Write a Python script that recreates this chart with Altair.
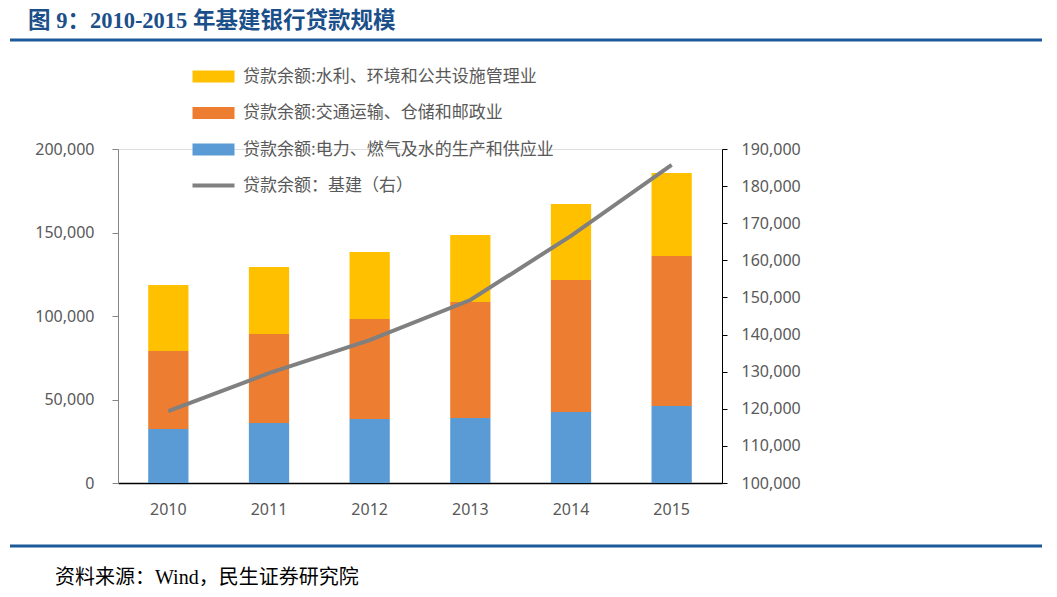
import altair as alt
import pandas as pd

years = ["2010", "2011", "2012", "2013", "2014", "2015"]
s_blue = "贷款余额:电力、燃气及水的生产和供应业"
s_orange = "贷款余额:交通运输、仓储和邮政业"
s_yellow = "贷款余额:水利、环境和公共设施管理业"
s_line = "贷款余额：基建（右）"
blue_vals = [32300, 35900, 38300, 38900, 42500, 46100]
orange_vals = [46700, 53300, 59900, 69500, 79100, 89800]
yellow_vals = [39600, 40100, 40100, 40100, 45400, 49700]
line_vals = [119400, 129600, 138500, 149300, 166600, 185700]

title_text = "图 9：2010-2015 年基建银行贷款规模"
source_text = "资料来源：Wind，民生证券研究院"

rows = []
for i, y in enumerate(years):
    rows.append({"year": y, "series": s_blue, "value": blue_vals[i], "ord": 0})
    rows.append({"year": y, "series": s_orange, "value": orange_vals[i], "ord": 1})
    rows.append({"year": y, "series": s_yellow, "value": yellow_vals[i], "ord": 2})
bars_df = pd.DataFrame(rows)
line_df = pd.DataFrame({"year": years, "value": line_vals, "series": [s_line] * len(years)})

FONT = "Noto Sans CJK SC"
AXFONT = "Noto Sans"
LABEL_COLOR = "#595959"

xenc = alt.X("year:N", title=None,
             scale=alt.Scale(paddingInner=0.6, paddingOuter=0.3),
             axis=alt.Axis(labelAngle=0, domainColor="#000000", domainWidth=1.5,
                           ticks=False, labelPadding=18, labelFontSize=16,
                           labelColor=LABEL_COLOR, labelFont=AXFONT))

wide_rect = "M-4.2,-1.2H4.2V1.2H-4.2Z"

bars = alt.Chart(bars_df).mark_bar().encode(
    x=xenc,
    y=alt.Y("value:Q", stack="zero", title=None,
            scale=alt.Scale(domain=[0, 200000], nice=False),
            axis=alt.Axis(values=[0, 50000, 100000, 150000, 200000], format=",d",
                          grid=False, domainColor="#868686", tickColor="#868686",
                          tickSize=6, labelPadding=18, labelFontSize=16,
                          labelColor=LABEL_COLOR, labelFont=AXFONT)),
    color=alt.Color("series:N",
                    scale=alt.Scale(domain=[s_yellow, s_orange, s_blue],
                                    range=["#FFC000", "#ED7D31", "#5B9BD5"]),
                    legend=alt.Legend(title=None, orient="none", legendX=87, legendY=-81,
                                      symbolType=wide_rect, symbolSize=100,
                                      symbolStrokeWidth=0, labelOffset=21,
                                      labelFontSize=17, labelColor=LABEL_COLOR,
                                      labelFont=FONT, rowPadding=18.5, labelLimit=600)),
    order=alt.Order("ord:Q"),
)

line = alt.Chart(line_df).mark_line(strokeWidth=4).encode(
    x=alt.X("year:N"),
    y=alt.Y("value:Q", title=None,
            scale=alt.Scale(domain=[100000, 190000], nice=False, zero=False),
            axis=alt.Axis(orient="right", values=list(range(100000, 190001, 10000)),
                          format=",d", grid=False, domainColor="#000000",
                          tickColor="#000000", tickSize=5, labelPadding=14,
                          labelFontSize=16, labelColor=LABEL_COLOR, labelFont=AXFONT)),
    stroke=alt.Stroke("series:N",
                      scale=alt.Scale(domain=[s_line], range=["#808080"]),
                      legend=alt.Legend(title=None, orient="none", legendX=87, legendY=28,
                                        symbolType="M-4.2,0H4.2", symbolSize=100,
                                        symbolStrokeWidth=4, labelOffset=21,
                                        labelFontSize=17, labelColor=LABEL_COLOR,
                                        labelFont=FONT, labelLimit=600)),
)

one = pd.DataFrame({"t": [title_text]})
title = alt.Chart(one).mark_text(align="left", baseline="alphabetic", fontSize=22.5,
                                 fontWeight="bold", color="#1B4F8A",
                                 font="Liberation Serif, " + FONT).encode(
    text="t:N", x=alt.value(-90), y=alt.value(-121))
title_rule = alt.Chart(one).mark_rule(color="#1C5A9A", strokeWidth=3).encode(
    x=alt.value(-108), x2=alt.value(932), y=alt.value(-109))
foot_rule = alt.Chart(one).mark_rule(color="#1C5A9A", strokeWidth=3).encode(
    x=alt.value(-108), x2=alt.value(932), y=alt.value(397))
src = pd.DataFrame({"t": [source_text]})
footer = alt.Chart(src).mark_text(align="left", baseline="alphabetic", fontSize=20,
                                  color="#000000",
                                  font="Liberation Serif, " + FONT).encode(
    text="t:N", x=alt.value(-63), y=alt.value(435))

chart = alt.layer(bars, line, title, title_rule, foot_rule, footer).resolve_scale(
    y="independent", color="independent", stroke="independent"
).properties(
    width=604, height=334,
    autosize=alt.AutoSizeParams(type="none"),
    padding={"left": 110, "top": 141, "right": 320, "bottom": 110},
).configure_view(stroke=None).configure(background="#ffffff")

chart.save("out.html", embed_options={"renderer": "svg", "actions": False})
